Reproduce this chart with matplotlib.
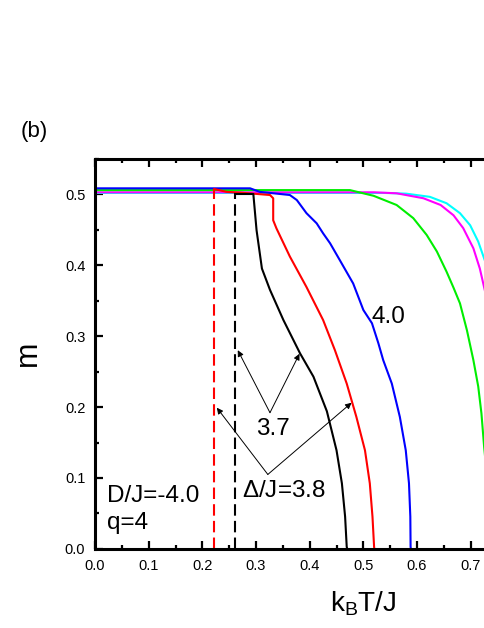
import matplotlib
matplotlib.use("Agg")
import matplotlib.pyplot as plt
from matplotlib.ticker import MultipleLocator

plt.rcParams['font.family'] = ['Liberation Sans', 'DejaVu Sans']
plt.rcParams['mathtext.fontset'] = 'custom'
plt.rcParams['mathtext.rm'] = 'Liberation Sans'

# magnetization curves m(kBT/J)
black_T = [0.261, 0.295, 0.301, 0.311, 0.326, 0.351, 0.382, 0.407, 0.432, 0.450, 0.460, 0.466, 0.469, 0.470]
black_m = [0.500, 0.500, 0.449, 0.395, 0.365, 0.3225, 0.2756, 0.2427, 0.194, 0.139, 0.0925, 0.0455, 0.003, 0.0]

red_T = [0.222, 0.245, 0.270, 0.326, 0.332, 0.332, 0.338, 0.363, 0.394, 0.425, 0.447, 0.469, 0.487,
         0.503, 0.512, 0.517, 0.520, 0.5205]
red_m = [0.507, 0.503, 0.502, 0.4986, 0.494, 0.463, 0.4517, 0.412, 0.369, 0.3225, 0.280, 0.233, 0.186,
         0.139, 0.0925, 0.0455, 0.003, 0.0]

blue_T = [0.0, 0.289, 0.307, 0.363, 0.376, 0.394, 0.413, 0.425, 0.438, 0.456, 0.481, 0.500, 0.516,
          0.528, 0.537, 0.553, 0.568, 0.579, 0.585, 0.5875, 0.588, 0.5885]
blue_m = [0.508, 0.508, 0.503, 0.4986, 0.4915, 0.473, 0.4587, 0.4446, 0.4306, 0.407, 0.374, 0.3366, 0.318,
          0.2897, 0.266, 0.233, 0.186, 0.139, 0.0925, 0.0455, 0.003, 0.0]

green_T = [0.0, 0.475, 0.519, 0.562, 0.593, 0.618, 0.637, 0.655, 0.668, 0.680, 0.693, 0.705, 0.714,
           0.720, 0.725, 0.732, 0.738, 0.742]
green_m = [0.5055, 0.5055, 0.4975, 0.4845, 0.466, 0.4423, 0.419, 0.3906, 0.368, 0.346, 0.308, 0.266, 0.229,
           0.191, 0.144, 0.09, 0.04, 0.0]

magenta_T = [0.0, 0.520, 0.562, 0.612, 0.644, 0.668, 0.686, 0.705, 0.717, 0.727, 0.740, 0.750, 0.758, 0.762]
magenta_m = [0.5024, 0.5024, 0.501, 0.494, 0.4845, 0.470, 0.452, 0.4235, 0.395, 0.362, 0.29, 0.2, 0.1, 0.0]

cyan_T = [0.0, 0.540, 0.580, 0.624, 0.655, 0.680, 0.699, 0.714, 0.727, 0.745, 0.760, 0.772, 0.778]
cyan_m = [0.5015, 0.5015, 0.5005, 0.496, 0.487, 0.473, 0.456, 0.433, 0.405, 0.33, 0.23, 0.1, 0.0]

# first-order transition temperatures (dashed)
red_Tc = 0.222
black_Tc = 0.261

x_ticks = [0.0, 0.1, 0.2, 0.3, 0.4, 0.5, 0.6, 0.7]

fig = plt.figure(figsize=(4.85, 6.28), dpi=100)
# axes runs off the right edge of the figure, as in the cropped original
ax = fig.add_axes([0.1959, 0.1258, 1.1066, 0.6218])

lw = 1.5
for T, m, c in [(cyan_T, cyan_m, '#00ffff'), (magenta_T, magenta_m, '#ff00ff'),
                (green_T, green_m, '#00ee00'), (blue_T, blue_m, '#0000ff'),
                (red_T, red_m, '#ff0000'), (black_T, black_m, 'black')]:
    ax.plot(T, m, color=c, lw=lw, solid_joinstyle='round')

ax.plot([red_Tc, red_Tc], [0, 0.505], color='#ff0000', lw=lw, ls=(0, (5.5, 2.5)))
ax.plot([black_Tc, black_Tc], [0, 0.5], color='black', lw=lw, ls=(0, (5.5, 2.5)))

ax.set_xlim(0, 1.0)
ax.set_ylim(0, 0.55)
ax.set_xticks(x_ticks)
ax.xaxis.set_minor_locator(MultipleLocator(0.05))
ax.yaxis.set_major_locator(MultipleLocator(0.1))
ax.yaxis.set_minor_locator(MultipleLocator(0.05))
ax.xaxis.set_major_formatter(plt.FormatStrFormatter('%.1f'))
ax.yaxis.set_major_formatter(plt.FormatStrFormatter('%.1f'))
ax.tick_params(which='both', direction='in', top=True, right=True, width=1.6, labelsize=10.5, pad=7)
ax.tick_params(which='major', length=6)
ax.tick_params(which='minor', length=3)
for s in ax.spines.values():
    s.set_linewidth(2.2)

ax.set_xlabel('k$_\\mathregular{B}$T/J', fontsize=20, labelpad=12)
ax.set_ylabel('m', fontsize=22, labelpad=16)

fs = 17.5
ax.text(0.5155, 0.318, '4.0', fontsize=fs, ha='left', va='baseline')
ax.text(0.301, 0.1606, '3.7', fontsize=fs, ha='left', va='baseline')
ax.text(0.273, 0.0737, '$\\Delta$/J=3.8', fontsize=fs, ha='left', va='baseline')
ax.text(0.0217, 0.0667, 'D/J=-4.0', fontsize=fs, ha='left', va='baseline')
ax.text(0.0217, 0.0277, 'q=4', fontsize=fs, ha='left', va='baseline')

arrow = dict(arrowstyle='-|>', color='black', lw=0.7, mutation_scale=9, shrinkA=0, shrinkB=0)
ax.annotate('', xy=(0.266, 0.280), xytext=(0.326, 0.192), arrowprops=arrow)
ax.annotate('', xy=(0.381, 0.275), xytext=(0.326, 0.192), arrowprops=arrow)
ax.annotate('', xy=(0.227, 0.199), xytext=(0.322, 0.105), arrowprops=arrow)
ax.annotate('', xy=(0.478, 0.206), xytext=(0.322, 0.105), arrowprops=arrow)

fig.text(34 / 485, 1 - 132 / 628, '(b)', fontsize=16, ha='center', va='center')

fig.savefig('out.png', dpi=100)
